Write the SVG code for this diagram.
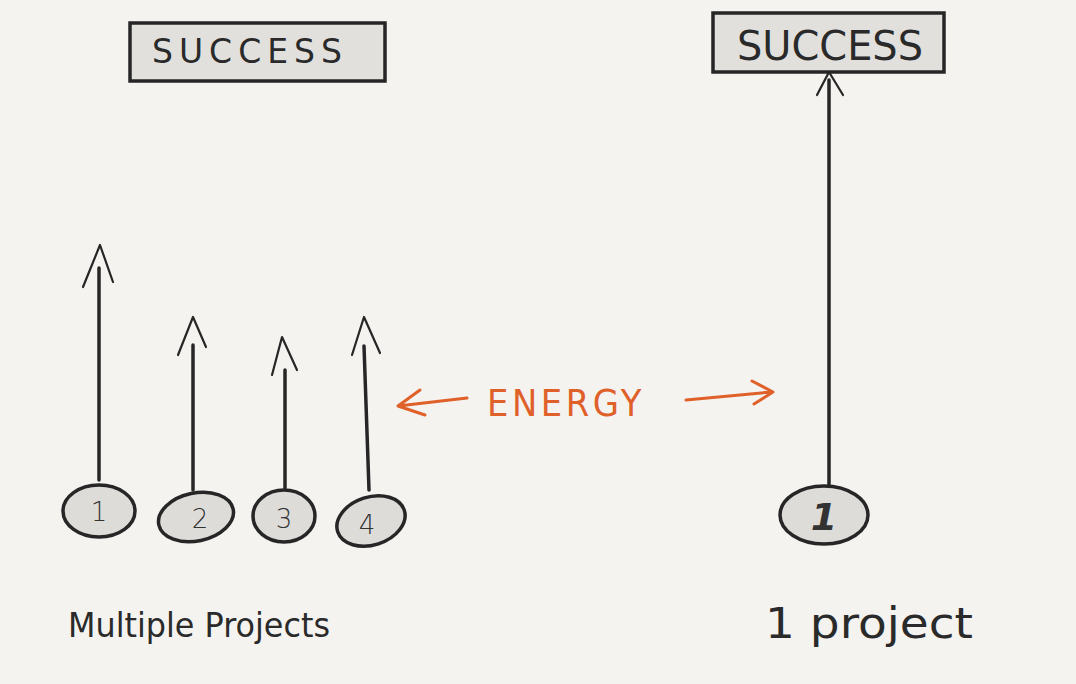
<svg xmlns="http://www.w3.org/2000/svg" width="1076" height="684" viewBox="0 0 1076 684">
<style>
.ink{fill:none;stroke:#262626;stroke-linecap:round;stroke-linejoin:round}
.box{fill:#e1e0dd;stroke:#262626;stroke-width:3.5}
.node{fill:#dddcd9;stroke:#262626;stroke-width:3.5}
.hand{font-family:"DejaVu Sans","Liberation Sans",sans-serif;fill:#2a2a2a}
.num{font-family:"DejaVu Sans","Liberation Sans",sans-serif;fill:#333;text-anchor:middle}
.or{fill:none;stroke:#e0602a;stroke-width:3;stroke-linecap:round;stroke-linejoin:round}
</style>
<rect width="1076" height="684" fill="#f4f3f0"/>

<g id="success-left">
<rect class="box" x="130" y="23" width="255" height="58"/>
<text class="hand" x="152" y="63" font-size="33" letter-spacing="6" textLength="196" lengthAdjust="spacingAndGlyphs">SUCCESS</text>
</g>

<g id="success-right">
<rect class="box" x="713" y="13" width="231" height="59"/>
<text class="hand" x="737" y="60" font-size="40" textLength="186" lengthAdjust="spacingAndGlyphs">SUCCESS</text>
</g>

<g id="connectors">
<g class="ink" stroke-width="3.5">
<path d="M99,480 L99,268"/>
<path d="M193,490 L193,345"/>
<path d="M285,488 L285,370"/>
<path d="M369,490 L364,346"/>
<path d="M829,486 L829,80"/>
</g>
<g class="ink" stroke-width="2.2">
<path d="M83,287 L100,245 L113,282"/>
<path d="M178,355 L193,317 L206,347"/>
<path d="M272,375 L282,337 L297,370"/>
<path d="M352,355 L364,317 L380,353"/>
<path d="M817,95 L829,72 L843,95"/>
</g>
<g id="energy-arrows">
<path class="or" d="M467,398 L398,406 M420,390 L398,406 L425,415"/>
<path class="or" d="M686,400 L771,392 M752,381 L773,392 L754,404"/>
</g>
</g>

<g id="node-1">
<ellipse class="node" cx="99" cy="511" rx="36" ry="26"/>
<text class="num" x="99" y="521" font-size="26" font-weight="300">1</text>
</g>
<g id="node-2">
<ellipse class="node" cx="196" cy="517" rx="38" ry="24" transform="rotate(-12 196 517)"/>
<text class="num" x="200" y="528" font-size="26" font-weight="300">2</text>
</g>
<g id="node-3">
<ellipse class="node" cx="284" cy="516" rx="31" ry="26"/>
<text class="num" x="284" y="528" font-size="26" font-weight="300">3</text>
</g>
<g id="node-4">
<ellipse class="node" cx="371" cy="521" rx="35" ry="24" transform="rotate(-18 371 521)"/>
<text class="num" x="367" y="534" font-size="26" font-weight="300">4</text>
</g>
<g id="node-right">
<ellipse class="node" cx="824" cy="515" rx="44" ry="29"/>
<text class="num" x="824" y="530" font-size="38" font-style="italic" font-weight="bold">1</text>
</g>

<g id="energy">
<text x="487" y="416" font-family="DejaVu Sans, Liberation Sans, sans-serif" font-size="38" fill="#e0602a" letter-spacing="4" textLength="158" lengthAdjust="spacingAndGlyphs">ENERGY</text>
</g>

<g id="labels">
<text class="hand" x="68" y="637" font-size="33" textLength="262" lengthAdjust="spacingAndGlyphs">Multiple Projects</text>
<text class="hand" x="765" y="638" font-size="42" textLength="208" lengthAdjust="spacingAndGlyphs">1 project</text>
</g>
</svg>
